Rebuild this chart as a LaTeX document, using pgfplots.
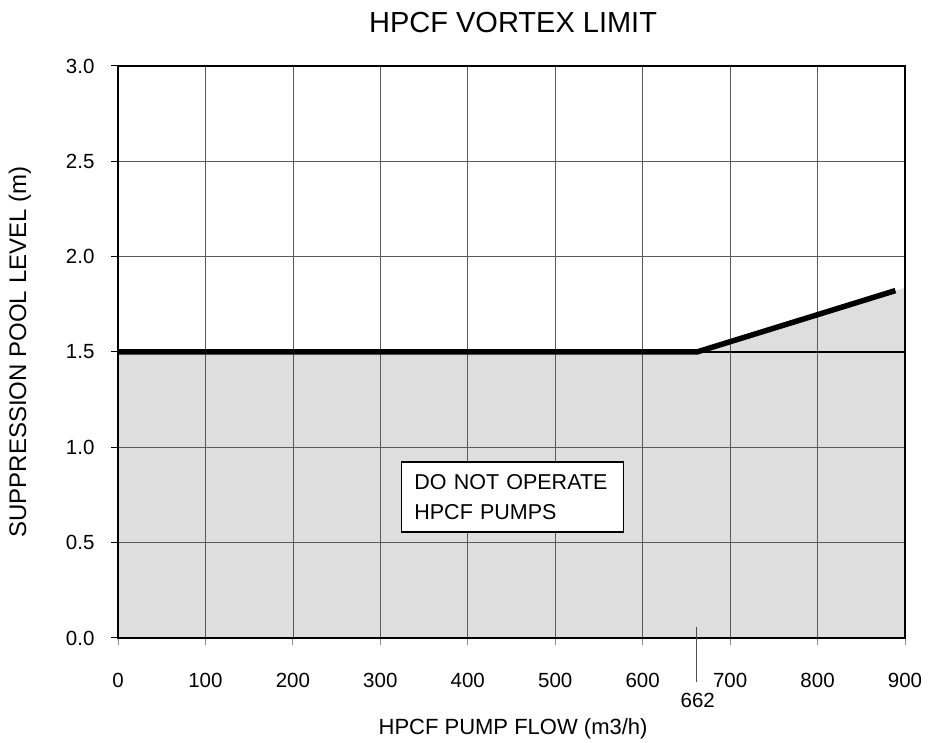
\documentclass[border=0pt]{standalone}
\usepackage{fontspec}
\setmainfont{Liberation Sans}
\usepackage{pgfplots}
\pgfplotsset{compat=1.18}
\begin{document}
\begin{tikzpicture}
\begin{axis}[
  at={(0pt,0pt)}, anchor=south west,
  scale only axis, width=787pt, height=572pt,
  xmin=0, xmax=900, ymin=0, ymax=3,
  xtick={0,100,...,900}, ytick={0,0.5,1,1.5,2,2.5,3},
  grid=major, grid style={black!65, line width=0.7pt},
  axis line style={black, line width=1.2pt},
  tick align=outside, major tick length=7pt, tick pos=left,
  xtick style={black!45, line width=0.8pt},
  ytick style={black, line width=1pt},
  set layers, clip=false,
  /pgf/number format/assume math mode=true,
  y tick label style={/pgf/number format/.cd, fixed, fixed zerofill, precision=1, /tikz/.cd},
  tick label style={font=\fontsize{20.5}{23}\selectfont},
  x tick label style={yshift=-25pt},
  y tick label style={xshift=-13pt},
  title={HPCF VORTEX LIMIT},
  title style={at={(axis description cs:0.502,1.066)}, anchor=center, font=\fontsize{29}{32}\selectfont},
  xlabel={HPCF PUMP FLOW (m3/h)},
  xlabel style={at={(axis description cs:0.502,-0.159)}, anchor=center, font=\fontsize{22}{26}\selectfont},
  ylabel={SUPPRESSION POOL LEVEL (m)},
  ylabel style={at={(axis description cs:-0.1245,0.5)}, anchor=center, font=\fontsize{24}{27}\selectfont},
]
\addplot[draw=none, fill=black!13, on layer=axis background] coordinates {(0,1.5) (662,1.5) (900,1.837)} \closedcycle;
\addplot[black, line width=1.2pt] coordinates {(0,1.5) (900,1.5)};
\addplot[black, line width=5.5pt, line join=miter] coordinates {(0,1.5) (662,1.5) (889,1.822)};
\draw[black!70, line width=0.8pt] (axis cs:662,0.06) -- (axis cs:662,-0.23);
\node[font=\fontsize{20.5}{23}\selectfont] at (axis cs:663,-0.325) {662};
\node[draw, line width=1.5pt, fill=white, align=left, inner xsep=13pt, minimum width=222pt, minimum height=70pt, text width=196pt, font=\fontsize{21.5}{30}\selectfont] at (axis cs:451,0.739) {DO NOT OPERATE\\HPCF PUMPS};
\end{axis}
\pgfresetboundingbox
\useasboundingbox (-118pt,-105pt) rectangle (810pt,638pt);
\end{tikzpicture}
\end{document}
